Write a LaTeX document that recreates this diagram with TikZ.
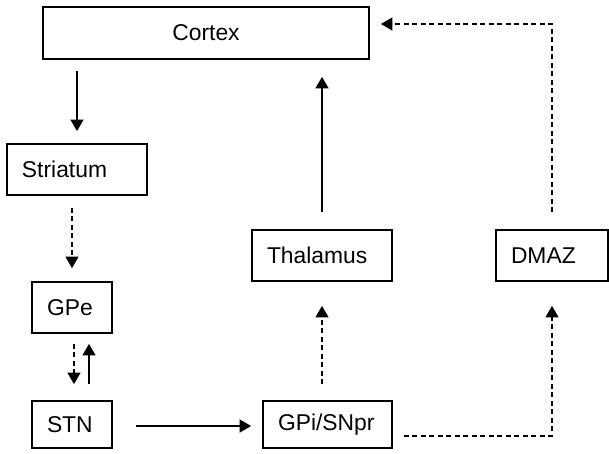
\documentclass[tikz,border=0pt]{standalone}
\usepackage{fontspec}
\setmainfont{Liberation Sans}
\usetikzlibrary{arrows.meta}

\begin{document}
\begin{tikzpicture}[
    box/.style={draw, line width=0.9pt, inner xsep=0.3cm, align=left, minimum height=1.02cm},
    arr/.style={line width=1.4pt, -{Triangle[length=0.23cm,width=0.25cm]}},
    dasharr/.style={arr, dash pattern=on 0.1cm off 0.07cm},
    font=\fontsize{13}{15}\selectfont]
    \useasboundingbox (0,0) rectangle (12.18,-9.06);
    % nuclei
    \node[box, align=center, text width=5.92cm, minimum height=1.04cm] (cortex) at (4.12,-0.66) {Cortex};
    \node[box, text width=2.2cm] (striatum) at (1.54,-3.39) {Striatum};
    \node[box, text width=1.0cm] (gpe) at (1.44,-6.15) {GPe};
    \node[box, text width=1.0cm, minimum height=0.94cm] (stn) at (1.44,-8.49) {STN};
    \node[box, text width=2.2cm] (thalamus) at (6.44,-5.11) {Thalamus};
    \node[box, text width=1.64cm] (dmaz) at (11.04,-5.11) {DMAZ};
    \node[box, text width=1.98cm, minimum height=0.94cm] (gpi) at (6.55,-8.49) {GPi/SNpr};
    % pathways
    \draw[arr, shorten <=0.22cm, shorten >=0.24cm] (striatum.north |- cortex.south) -- (striatum.north);
    \draw[dasharr, shorten <=0.24cm, shorten >=0.26cm] (gpe.north |- striatum.south) -- (gpe.north);
    \draw[dasharr, shorten <=0.2cm, shorten >=0.32cm] ([xshift=0.04cm]gpe.south) -- ([xshift=0.04cm]stn.north);
    \draw[arr, shorten <=0.32cm, shorten >=0.2cm] ([xshift=0.34cm]stn.north) -- ([xshift=0.34cm]gpe.south);
    \draw[arr, shorten <=0.46cm, shorten >=0.22cm] ([yshift=-0.03cm]stn.east) -- ([yshift=-0.03cm]stn.east -| gpi.west);
    \draw[dasharr, shorten <=0.32cm, shorten >=0.48cm] (gpi.north -| thalamus.south) -- (thalamus.south);
    \draw[arr, shorten <=0.34cm, shorten >=0.34cm] (thalamus.north) -- (thalamus.north |- cortex.south);
    \draw[dasharr, shorten <=0.22cm, shorten >=0.48cm] ([yshift=-0.23cm]gpi.east) -| (dmaz.south);
    \draw[dasharr, shorten <=0.34cm, shorten >=0.22cm] (dmaz.north) |- ([yshift=0.18cm]cortex.east);
\end{tikzpicture}
\end{document}
